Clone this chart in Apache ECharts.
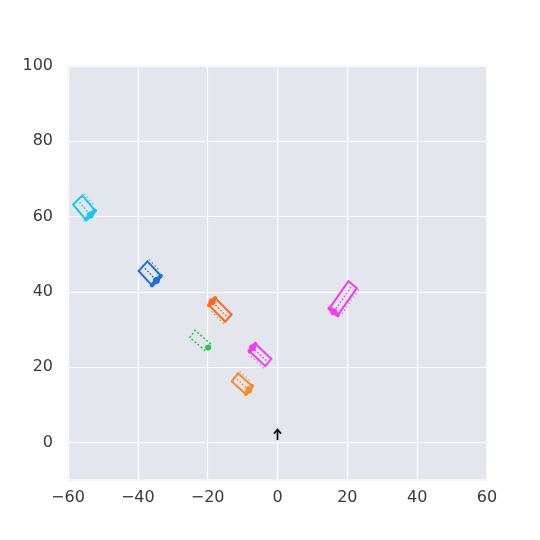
<!DOCTYPE html>
<html lang="en">
<head>
    <meta charset="UTF-8">
    <title>Vehicles</title>
    <script src="https://cdn.jsdelivr.net/npm/echarts@6/dist/echarts.min.js"></script>
    <style>
        html, body { margin: 0; padding: 0; background: #fff; }
        #main { width: 540px; height: 540px; }
    </style>
</head>
<body>
<div id="main"></div>
<script>
    // vehicle data: centre, heading (deg, data space), length, width
    const vehX       = [-55.4, -36.6, -16.4, -22.1, -4.9, -10.2, 18.8];
    const vehY       = [ 62.4,  44.9,  35.2,  27.0, 23.2,  15.6, 38.3];
    const vehHeading = [  -48,   -45,   137,   -39,  139,   -40, -127];
    const vehLen     = [  5.4,   5.4,   6.4,   5.8,  6.0,   5.2,  9.0];
    const vehWid     = [  3.6,   3.6,   2.6,   2.4,  2.6,   2.8,  3.0];

    // ego arrow: x, y tail, y head
    const arrowX = [0];
    const arrowTail = [0.6];
    const arrowHead = [3.4];

    const xTicks = [-60, -40, -20, 0, 20, 40, 60];
    const yTicks = [0, 20, 40, 60, 80, 100];

    const vehColor  = ['#12c9ef', '#1e6fdc', '#f96a1c', '#22cc48', '#f03cf0', '#f78a2a', '#f03cf0'];
    const vehDashed = [false, false, false, true, false, false, false];

    const chart = echarts.init(document.getElementById('main'));

    function renderVehicle(params, api) {
        const x = api.value(0), y = api.value(1);
        const h = api.value(2) * Math.PI / 180;
        const L = api.value(3), W = api.value(4);
        const i = params.dataIndex;
        const c = vehColor[i];
        const ux = Math.cos(h), uy = Math.sin(h);
        const nx = -uy, ny = ux;
        const pt = (a, b) => api.coord([x + ux * a + nx * b, y + uy * a + ny * b]);
        const corners = [pt(L / 2, W / 2), pt(-L / 2, W / 2), pt(-L / 2, -W / 2), pt(L / 2, -W / 2)];
        const children = [];
        if (vehDashed[i]) {
            children.push({
                type: 'polygon',
                shape: { points: corners },
                style: { fill: 'none', stroke: c, lineWidth: 1.5, lineDash: [2, 2] }
            });
            const f = pt(L / 2, 0);
            children.push({ type: 'circle', shape: { cx: f[0], cy: f[1], r: 3 }, style: { fill: c } });
        } else {
            children.push({
                type: 'polygon',
                shape: { points: corners },
                style: { fill: 'none', stroke: c, lineWidth: 2 }
            });
            // dotted marks inside
            const a = pt(-L / 2 + 0.8, 0), b = pt(L / 2 - 1.0, 0);
            children.push({
                type: 'line',
                shape: { x1: a[0], y1: a[1], x2: b[0], y2: b[1] },
                style: { stroke: c, lineWidth: 1.5, lineDash: [1.5, 2] }
            });
            // dotted side trail
            const s1 = pt(-L / 2, W / 2 + 0.7), s2 = pt(L / 2 - 1, W / 2 + 0.7);
            children.push({
                type: 'line',
                shape: { x1: s1[0], y1: s1[1], x2: s2[0], y2: s2[1] },
                style: { stroke: c, lineWidth: 1.2, lineDash: [1.5, 2.5], opacity: 0.8 }
            });
            // front edge and blob
            const f1 = pt(L / 2, W / 2), f2 = pt(L / 2, -W / 2), f = pt(L / 2, 0);
            children.push({
                type: 'line',
                shape: { x1: f1[0], y1: f1[1], x2: f2[0], y2: f2[1] },
                style: { stroke: c, lineWidth: 4, lineCap: 'round' }
            });
            children.push({ type: 'circle', shape: { cx: f[0], cy: f[1], r: 3.5 }, style: { fill: c } });
        }
        return { type: 'group', children: children };
    }

    function renderArrow(params, api) {
        const t = api.coord([api.value(0), api.value(1)]);
        const hd = api.coord([api.value(0), api.value(2)]);
        return {
            type: 'group',
            children: [
                { type: 'line', shape: { x1: t[0], y1: t[1], x2: hd[0], y2: hd[1] },
                  style: { stroke: '#111', lineWidth: 1.8 } },
                { type: 'polyline', shape: { points: [[hd[0] - 3.5, hd[1] + 4], hd, [hd[0] + 3.5, hd[1] + 4]] },
                  style: { stroke: '#111', lineWidth: 1.8, fill: 'none' } }
            ]
        };
    }

    const labelStyle = { color: '#3a3a3a', fontSize: 16, fontFamily: 'DejaVu Sans' };

    chart.setOption({
        animation: false,
        backgroundColor: '#fff',
        grid: {
            left: 68, right: 53, top: 66, bottom: 60,
            show: true, backgroundColor: '#e3e6ec', borderColor: '#f3f5f0', borderWidth: 2
        },
        xAxis: {
            type: 'value', min: -60, max: 60, interval: 20,
            axisLine: { show: false }, axisTick: { show: false },
            axisLabel: Object.assign({ margin: 10, formatter: v => String(v).replace('-', '\u2212') }, labelStyle),
            splitLine: { lineStyle: { color: '#ffffff', width: 1.2 } }
        },
        yAxis: {
            type: 'value', min: -10, max: 100,
            axisLine: { show: false },
            axisTick: { show: false, customValues: yTicks },
            axisLabel: Object.assign({ margin: 15, customValues: yTicks }, labelStyle),
            splitLine: { lineStyle: { color: '#ffffff', width: 1.2 } }
        },
        series: [
            {
                type: 'custom',
                renderItem: renderVehicle,
                data: vehX.map((x, i) => [x, vehY[i], vehHeading[i], vehLen[i], vehWid[i]]),
                clip: true
            },
            {
                type: 'custom',
                renderItem: renderArrow,
                data: arrowX.map((x, i) => [x, arrowTail[i], arrowHead[i]])
            }
        ]
    });
</script>
</body>
</html>
